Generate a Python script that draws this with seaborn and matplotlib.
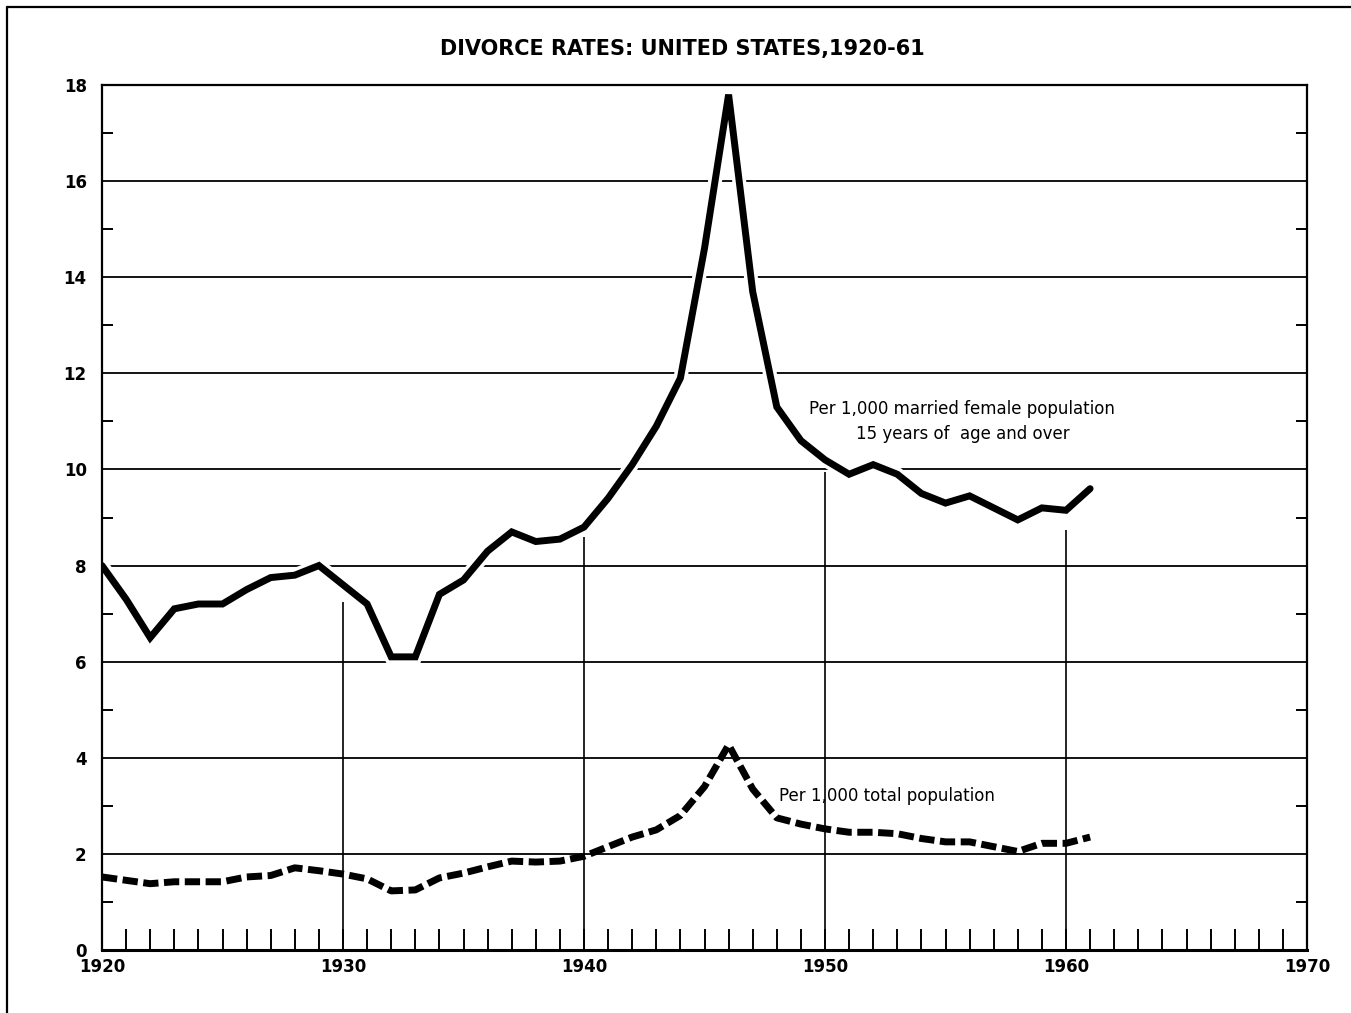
import matplotlib
matplotlib.use('Agg')
import matplotlib.pyplot as plt
import seaborn as sns
import pandas as pd
from matplotlib import patheffects as pe
from matplotlib.lines import Line2D
from matplotlib.ticker import FixedLocator, MultipleLocator

years = list(range(1920, 1962))
married_female_rate = [8.0, 7.3, 6.5, 7.1, 7.2, 7.2, 7.5, 7.75, 7.8, 8.0,
                       7.6, 7.2, 6.1, 6.1, 7.4, 7.7, 8.3, 8.7, 8.5, 8.55,
                       8.8, 9.4, 10.1, 10.9, 11.9, 14.6, 17.8, 13.7, 11.3, 10.6,
                       10.2, 9.9, 10.1, 9.9, 9.5, 9.3, 9.45, 9.2, 8.95, 9.2,
                       9.15, 9.6]
total_pop_rate = [1.52, 1.45, 1.38, 1.42, 1.42, 1.42, 1.52, 1.55, 1.71, 1.65,
                  1.58, 1.48, 1.23, 1.25, 1.50, 1.60, 1.73, 1.85, 1.83, 1.85,
                  1.95, 2.15, 2.35, 2.50, 2.80, 3.40, 4.27, 3.35, 2.75, 2.62,
                  2.52, 2.45, 2.45, 2.42, 2.32, 2.25, 2.25, 2.15, 2.05, 2.22,
                  2.22, 2.35]
x_ticks = [1920, 1930, 1940, 1950, 1960, 1970]
y_ticks = [0, 2, 4, 6, 8, 10, 12, 14, 16, 18]
decade_lines = [1930, 1940, 1950, 1960]
decade_line_tops = [7.25, 8.6, 9.95, 8.75]

title = "DIVORCE RATES: UNITED STATES,1920-61"
label_married = "Per 1,000 married female population\n15 years of  age and over"
label_total = "Per 1,000 total population"

df = pd.DataFrame({"year": years, "married": married_female_rate, "total": total_pop_rate})

sns.set_theme(style="white")
plt.rcParams['font.family'] = ['DejaVu Sans']
plt.rcParams['text.color'] = 'black'
plt.rcParams['xtick.color'] = 'black'
plt.rcParams['ytick.color'] = 'black'
plt.rcParams['axes.labelcolor'] = 'black'

fig = plt.figure(figsize=(13.51, 10.13), dpi=100)
ax = fig.add_axes([102/1351, 1 - 950/1013, (1307-102)/1351, (950-85)/1013])

# gridlines
ax.hlines(y_ticks[1:-1], 1920, 1970, color='black', lw=1.3, zorder=1)
ax.vlines(decade_lines, 0, decade_line_tops, color='black', lw=1.2, zorder=1)

sns.lineplot(data=df, x="year", y="married", ax=ax, color='black', lw=5,
             zorder=3, solid_joinstyle='miter',
             path_effects=[pe.Stroke(linewidth=10, foreground='white'), pe.Normal()])
sns.lineplot(data=df, x="year", y="total", ax=ax, color='black', lw=5,
             zorder=3, linestyle=(0, (2.2, 0.8)), dash_capstyle='butt')

ax.set_xlim(1920, 1970)
ax.set_ylim(0, 18)
ax.set_xlabel("")
ax.set_ylabel("")

ax.set_xticks(x_ticks)
ax.xaxis.set_minor_locator(MultipleLocator(1))
ax.tick_params(axis='x', which='both', direction='in', length=15, width=1.4,
               bottom=True, top=False, pad=6, labelsize=12, color='black',
               labelcolor='black')
ax.set_yticks(y_ticks)
ax.yaxis.set_minor_locator(FixedLocator([1, 3, 5, 7, 9, 11, 13, 15, 17]))
ax.tick_params(axis='y', which='major', length=0, pad=11, labelsize=12,
               labelcolor='black')
ax.tick_params(axis='y', which='minor', direction='in', length=8, width=1.4,
               left=True, right=True, color='black')
for lab in ax.get_xticklabels() + ax.get_yticklabels():
    lab.set_fontweight('bold')

for s in ax.spines.values():
    s.set_visible(True)
    s.set_color('black')
    s.set_linewidth(1.6)
    s.set_zorder(5)
ax.spines['bottom'].set_linewidth(2.2)

ax.text(1955.7, 11.0, label_married, ha='center', va='center', fontsize=12,
        linespacing=1.5, multialignment='center', color='black')
ax.text(1948.1, 3.2, label_total, ha='left', va='center', fontsize=12, color='black')

fig.text(0.505, 0.952, title, ha='center', va='center', fontsize=15,
         fontweight='bold', color='black')

# outer frame
fig.add_artist(Line2D([7/1351, 1.0], [1 - 7/1013, 1 - 7/1013], transform=fig.transFigure,
                      color='black', lw=1.6))
fig.add_artist(Line2D([7/1351, 7/1351], [0.0, 1 - 7/1013], transform=fig.transFigure,
                      color='black', lw=1.6))

fig.savefig("out.png", dpi=100)
